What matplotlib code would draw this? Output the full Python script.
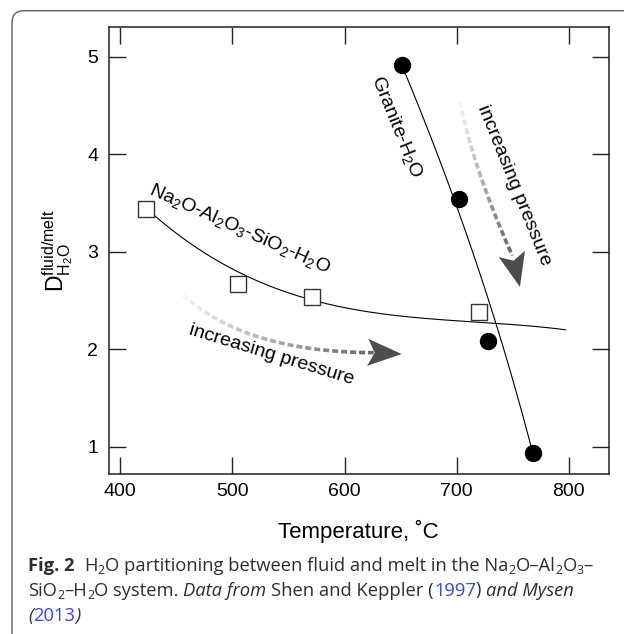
import numpy as np
import matplotlib
matplotlib.use('Agg')
import matplotlib.pyplot as plt
from matplotlib.collections import LineCollection
from matplotlib.patches import FancyBboxPatch, Polygon

plt.rcParams['font.family'] = ['Liberation Sans', 'DejaVu Sans']
plt.rcParams['mathtext.fontset'] = 'custom'
plt.rcParams['mathtext.rm'] = 'Liberation Sans'
plt.rcParams['mathtext.it'] = 'Liberation Sans:italic'
plt.rcParams['mathtext.bf'] = 'Liberation Sans:bold'

# Granite-H2O (Mysen 2013), filled circles
granite_T = [651, 702, 728, 768]
granite_D = [4.92, 3.54, 2.08, 0.93]

# Na2O-Al2O3-SiO2-H2O (Shen and Keppler 1997), open squares
nas_T = [423, 505, 571, 720]
nas_D = [3.44, 2.67, 2.54, 2.38]

# hand-drawn trend curves through each series
granite_curve_D = [4.92, 3.58, 2.27, 2.02, 1.55, 1.14, 0.93]
granite_curve_T = [651, 696, 735, 742, 753, 763, 768]
nas_curve_T = [423, 470, 506, 571, 648, 736, 797]
nas_curve_D = [3.44, 3.05, 2.77, 2.50, 2.35, 2.26, 2.20]

x_ticks = [400, 500, 600, 700, 800]
y_ticks = [1, 2, 3, 4, 5]

W, H, DPI = 624, 634, 100
fig = plt.figure(figsize=(W / DPI, H / DPI), dpi=DPI)
ax = fig.add_axes([108.5 / W, 1 - 474.3 / H, (609 - 108.5) / W, (474.3 - 27.3) / H])

ax.set_xlim(389.6, 835.8)
ax.set_ylim(0.716, 5.302)
ax.set_xticks(x_ticks)
ax.set_yticks(y_ticks)
ax.tick_params(direction='in', length=12.5, width=1.0, top=True, right=True,
               labelsize=14, color='#222222')
ax.tick_params(axis='x', pad=6.5)
ax.tick_params(axis='y', pad=7.5)
for sp in ax.spines.values():
    sp.set_linewidth(1.1)
    sp.set_color('#222222')

ax.set_xlabel('Temperature, ˚C', fontsize=16, labelpad=14)
ax.set_ylabel(r'$\mathrm{D^{fluid/melt}_{H_2O}}$', fontsize=16.5, labelpad=9)

# trend curves
cD = np.array(granite_curve_D)
cT = np.array(granite_curve_T)
gD = np.linspace(cD.max(), cD.min(), 200)
ax.plot(np.polyval(np.polyfit(cD, cT, 2), gD), gD, color='black', lw=0.8, zorder=2)

nT = np.array(nas_curve_T)
nD = np.array(nas_curve_D)
gT = np.linspace(nT.min(), nT.max(), 200)
ax.plot(gT, np.polyval(np.polyfit(nT, nD, 3), gT), color='black', lw=0.8, zorder=2)

ax.plot(granite_T, granite_D, 'o', ms=11.5, color='black', zorder=3)
ax.plot(nas_T, nas_D, 's', ms=12, mfc='white', mec='#333333', mew=1.0, zorder=3)

# curve labels
ax.text(646.7, 4.28, r'Granite-H$_2$O', fontsize=14, rotation=-68,
        ha='center', va='center', rotation_mode='anchor')
ax.text(506.8, 3.23, r'Na$_2$O-Al$_2$O$_3$-SiO$_2$-H$_2$O', fontsize=14, rotation=-24,
        ha='center', va='center', rotation_mode='anchor')
ax.text(535.3, 1.94, 'increasing pressure', fontsize=14, rotation=-17,
        ha='center', va='center', rotation_mode='anchor')
ax.text(751.0, 3.68, 'increasing pressure', fontsize=14, rotation=-68,
        ha='center', va='center', rotation_mode='anchor')


def fading_arrow(ax, p0, p1, p2, tip, dash=6.0, gap=3.0, lw=2.6,
                 g0=0.96, g1=0.38, head_len=34, head_hw=13.5, notch=7):
    """Dashed quadratic curve that darkens toward a filled arrowhead."""
    t = np.linspace(0, 1, 600)[:, None]
    P = np.array([p0, p1, p2], dtype=float)
    curve = (1 - t) ** 2 * P[0] + 2 * (1 - t) * t * P[1] + t ** 2 * P[2]
    disp = ax.transData.transform(curve)
    tip_d = ax.transData.transform(tip)
    end_d = disp[-1]
    u = (tip_d - end_d) / np.hypot(*(tip_d - end_d))
    n = np.array([-u[1], u[0]])
    base = tip_d - u * head_len
    notch_pt = base + u * notch

    s = np.concatenate([[0], np.cumsum(np.hypot(*np.diff(disp, axis=0).T))])
    total = s[-1]
    segs, cols = [], []
    a = 0.0
    while a < total:
        b = min(a + dash, total)
        ss = np.linspace(a, b, 6)
        xs = np.interp(ss, s, disp[:, 0])
        ys = np.interp(ss, s, disp[:, 1])
        segs.append(np.column_stack([xs, ys]))
        g = g0 + (g1 - g0) * (a / total)
        cols.append((g, g, g))
        a += dash + gap
    inv = ax.transData.inverted()
    segs = [inv.transform(sg) for sg in segs]
    ax.add_collection(LineCollection(segs, colors=cols, linewidths=lw,
                                     capstyle='butt', zorder=1))
    head = np.array([tip_d, base + n * head_hw, notch_pt, base - n * head_hw])
    ax.add_patch(Polygon(inv.transform(head), closed=True, fc='#4d4d4d',
                         ec='none', zorder=1))


fig.canvas.draw()
fading_arrow(ax, (456.2, 2.556), (511.2, 1.971), (626.0, 1.964), (651.0, 1.950))
fading_arrow(ax, (702.9, 4.536), (715.4, 3.838), (749.6, 2.960), (756.4, 2.638))

# rounded page frame
frame = FancyBboxPatch((0.12, -0.3), 7.0, 6.233 + 0.3,
                       boxstyle='round,pad=0,rounding_size=0.12',
                       transform=fig.dpi_scale_trans, fc='none', ec='#6a6a6a',
                       lw=1.1, clip_on=False)
fig.add_artist(frame)

# caption
renderer = fig.canvas.get_renderer()
cap_font = 'Open Sans'
cap_size = 13.2
ink = '#2e2e2e'
blue = '#3a46e0'


def style_kw(style):
    if style == 'b':
        return {'fontweight': 'bold'}
    if style == 'i':
        return {'fontstyle': 'italic'}
    return {}


def measure(txt, size, kw):
    t = fig.text(0, 0, txt, fontsize=size, family=cap_font, **kw)
    w = t.get_window_extent(renderer).width
    t.remove()
    return w


def advance(txt, size, kw):
    # pen advance of txt: width with a trailing bar minus the bar alone
    return measure(txt + '|', size, kw) - measure('|', size, kw)


space_w = advance(' ', cap_size, {})


def rich_line(x, y, pieces):
    for item in pieces:
        if item == ' ':
            x += space_w
            continue
        txt, style = item[0], item[1]
        color = item[2] if len(item) > 2 else ink
        size = cap_size
        rise = 0.0
        kw = style_kw(style)
        if style == 'sub':
            size = cap_size * 0.68
            rise = -0.2 * cap_size * DPI / 72
        fig.text(x / DPI, (y + rise) / DPI, txt, fontsize=size, family=cap_font,
                 color=color, va='baseline', ha='left',
                 transform=fig.dpi_scale_trans, **kw)
        x += advance(txt, size, kw)


line1 = [('Fig. 2', 'b'), ' ', ' ', ('H', 'r'), ('2', 'sub'),
         ('O partitioning between fluid and melt in the Na', 'r'), ('2', 'sub'),
         ('O–Al', 'r'), ('2', 'sub'), ('O', 'r'), ('3', 'sub'), ('–', 'r')]
line2 = [('SiO', 'r'), ('2', 'sub'), ('–H', 'r'), ('2', 'sub'), ('O system.', 'r'), ' ',
         ('Data from', 'i'), ' ', ('Shen and Keppler (', 'r'), ('1997', 'r', blue),
         (')', 'r'), ' ', ('and Mysen', 'i')]
line3 = [('(', 'i'), ('2013', 'r', blue), (')', 'i')]

rich_line(28.3, H - 570.7, line1)
rich_line(28.3, H - 595.5, line2)
rich_line(28.3, H - 621.0, line3)

fig.savefig('out.png', dpi=DPI)
